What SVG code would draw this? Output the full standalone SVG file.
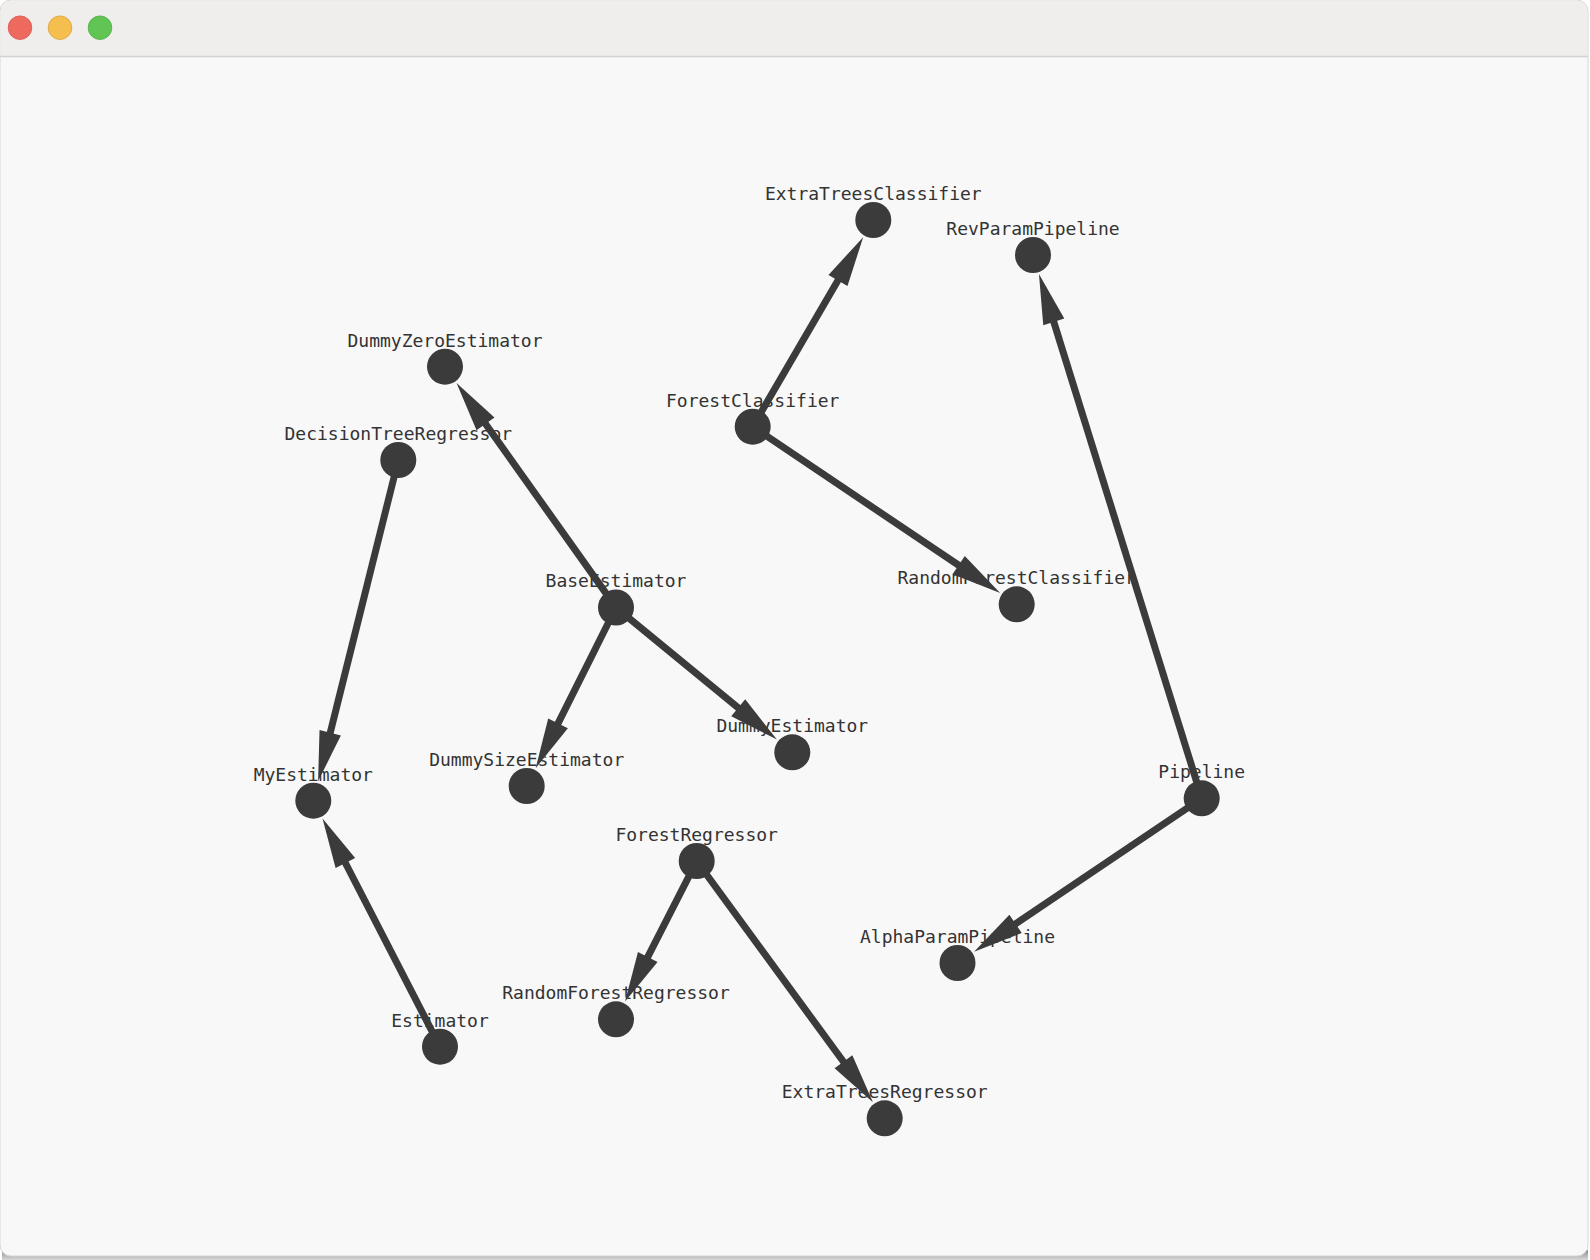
<svg xmlns="http://www.w3.org/2000/svg" width="1590" height="1260" viewBox="0 0 1590 1260">
  <defs>
    <style>
      .node circle { fill: #3b3b3b; }
      .node text { font-family: "DejaVu Sans Mono", "Liberation Mono", monospace; font-size: 18px; fill: #333333; text-anchor: middle; }
      .link { stroke: #3b3b3b; stroke-width: 7; fill: none; marker-end: url(#arrow); }
    </style>
    <marker id="arrow" markerUnits="userSpaceOnUse" orient="auto" markerWidth="50" markerHeight="22" refX="5" refY="11" viewBox="0 0 50 22" overflow="visible">
      <path d="M0,0 L50,11 L0,22 Z" fill="#3b3b3b"/>
    </marker>
    <linearGradient id="shadow" x1="0" y1="0" x2="0" y2="1">
      <stop offset="0" stop-color="#8a8a8a"/>
      <stop offset="1" stop-color="#d8d8d8"/>
    </linearGradient>
  </defs>

  <!-- window chrome -->
  <rect x="0" y="0" width="1590" height="1260" fill="#ffffff"/>
  <rect x="2" y="1250" width="1586" height="10" fill="url(#shadow)"/>
  <rect x="0" y="0" width="1588" height="1256" rx="11" ry="11" fill="#f8f8f8" stroke="#d6d6d6" stroke-width="1"/>
  <path d="M0.5,56 L0.5,11 A10.5,10.5 0 0 1 11,0.5 L1577,0.5 A10.5,10.5 0 0 1 1587.5,11 L1587.5,56 Z" fill="#efeeec"/>
  <line x1="0" y1="56.5" x2="1588" y2="56.5" stroke="#d2d2d2" stroke-width="1.5"/>
  <circle cx="20" cy="27.7" r="11.8" fill="#ee6a5f" stroke="#d9544a" stroke-width="0.8"/>
  <circle cx="60" cy="27.7" r="11.8" fill="#f5bf4f" stroke="#d9a13c" stroke-width="0.8"/>
  <circle cx="100" cy="27.7" r="11.8" fill="#61c554" stroke="#4fa843" stroke-width="0.8"/>

  <!-- nodes -->
  <g id="node-ExtraTreesClassifier" class="node"><circle cx="873.3" cy="220" r="18"/><text x="873.3" y="200">ExtraTreesClassifier</text></g>
  <g id="node-RevParamPipeline" class="node"><circle cx="1033" cy="255" r="18"/><text x="1033" y="235">RevParamPipeline</text></g>
  <g id="node-DummyZeroEstimator" class="node"><circle cx="445" cy="366.7" r="18"/><text x="445" y="346.7">DummyZeroEstimator</text></g>
  <g id="node-ForestClassifier" class="node"><circle cx="752.7" cy="426.7" r="18"/><text x="752.7" y="406.7">ForestClassifier</text></g>
  <g id="node-DecisionTreeRegressor" class="node"><circle cx="398.3" cy="460" r="18"/><text x="398.3" y="440">DecisionTreeRegressor</text></g>
  <g id="node-BaseEstimator" class="node"><circle cx="616" cy="607.5" r="18"/><text x="616" y="587">BaseEstimator</text></g>
  <g id="node-RandomForestClassifier" class="node"><circle cx="1016.7" cy="604.3" r="18"/><text x="1016.7" y="584.3">RandomForestClassifier</text></g>
  <g id="node-DummyEstimator" class="node"><circle cx="792.3" cy="752.3" r="18"/><text x="792.3" y="732.3">DummyEstimator</text></g>
  <g id="node-DummySizeEstimator" class="node"><circle cx="526.7" cy="786" r="18"/><text x="526.7" y="766">DummySizeEstimator</text></g>
  <g id="node-MyEstimator" class="node"><circle cx="313.3" cy="800.7" r="18"/><text x="313.3" y="780.7">MyEstimator</text></g>
  <g id="node-Pipeline" class="node"><circle cx="1201.7" cy="798.3" r="18"/><text x="1201.7" y="778.3">Pipeline</text></g>
  <g id="node-ForestRegressor" class="node"><circle cx="696.7" cy="861" r="18"/><text x="696.7" y="841">ForestRegressor</text></g>
  <g id="node-AlphaParamPipeline" class="node"><circle cx="957.5" cy="963" r="18"/><text x="957.5" y="943">AlphaParamPipeline</text></g>
  <g id="node-RandomForestRegressor" class="node"><circle cx="616" cy="1019.3" r="18"/><text x="616" y="999.3">RandomForestRegressor</text></g>
  <g id="node-Estimator" class="node"><circle cx="440" cy="1046.7" r="18"/><text x="440" y="1026.7">Estimator</text></g>
  <g id="node-ExtraTreesRegressor" class="node"><circle cx="884.7" cy="1118.3" r="18"/><text x="884.7" y="1098.3">ExtraTreesRegressor</text></g>

  <!-- connectors -->
  <g id="connectors">
    <line class="link" x1="761.3" y1="412.0" x2="840.5" y2="276.1"/>
    <line class="link" x1="1196.7" y1="782.1" x2="1052.3" y2="317.1"/>
    <line class="link" x1="606.2" y1="593.6" x2="482.6" y2="419.7"/>
    <line class="link" x1="394.2" y1="476.5" x2="329.0" y2="737.6"/>
    <line class="link" x1="766.8" y1="436.2" x2="962.8" y2="568.0"/>
    <line class="link" x1="608.4" y1="622.7" x2="555.8" y2="727.9"/>
    <line class="link" x1="629.1" y1="618.3" x2="742.1" y2="711.0"/>
    <line class="link" x1="432.2" y1="1031.6" x2="343.1" y2="858.5"/>
    <line class="link" x1="689.0" y1="876.1" x2="645.5" y2="961.4"/>
    <line class="link" x1="706.7" y1="874.7" x2="846.4" y2="1065.8"/>
    <line class="link" x1="1187.6" y1="807.8" x2="1011.4" y2="926.6"/>
  </g>
</svg>
